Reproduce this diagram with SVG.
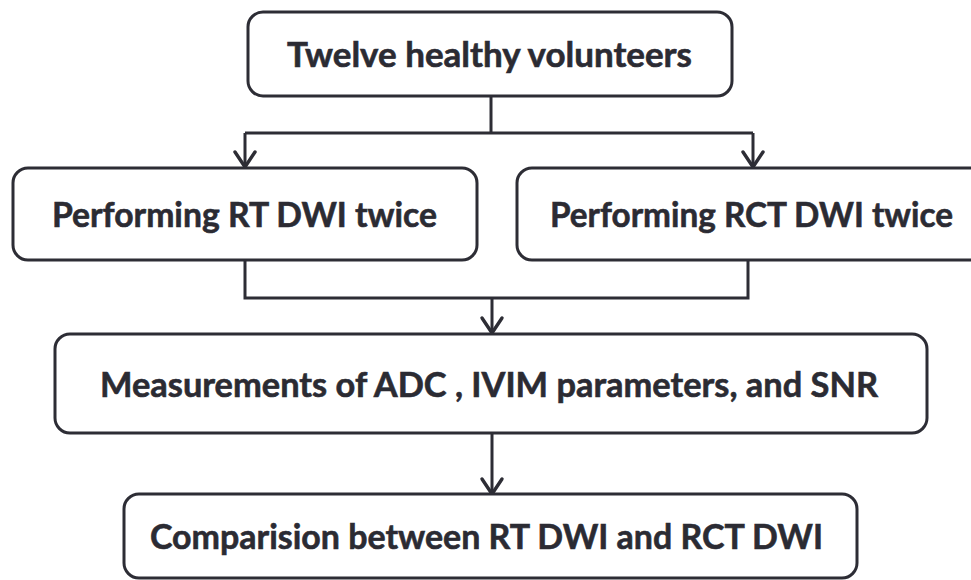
<svg xmlns="http://www.w3.org/2000/svg" width="971" height="580" viewBox="0 0 971 580">
  <defs>
    <!-- open V arrowhead, tip at the end of the line -->
    <marker id="arrow" markerUnits="userSpaceOnUse" markerWidth="30" markerHeight="30" viewBox="-20 -15 30 30" refX="0" refY="0" orient="auto">
      <path d="M-15 -10 L0 0 L-15 10" fill="none" stroke="#2d2d35" stroke-width="3.4" stroke-linecap="round" stroke-linejoin="round"/>
    </marker>
    <style>
      .box { fill: #ffffff; stroke: #2d2d35; stroke-width: 3; }
      .label { font-family: Lato, "Open Sans", "Liberation Sans", sans-serif; font-weight: bold; font-size: 35px; fill: #2b2b33; stroke: #2b2b33; stroke-width: 0.6; }
      .wire { fill: none; stroke: #2d2d35; stroke-width: 3; }
    </style>
  </defs>
  <rect width="971" height="580" fill="#ffffff"/>

  <g id="connectors">
    <path class="wire" d="M491 96 V133"/>
    <path class="wire" d="M245 133 H753"/>
    <path class="wire" d="M245 133 V167" marker-end="url(#arrow)"/>
    <path class="wire" d="M753 133 V167" marker-end="url(#arrow)"/>
    <path class="wire" d="M245 260 V298 H748 V260"/>
    <path class="wire" d="M492 298 V333" marker-end="url(#arrow)"/>
    <path class="wire" d="M492 433 V494" marker-end="url(#arrow)"/>
  </g>

  <g id="volunteers">
    <rect class="box" x="248" y="12" width="484" height="84" rx="15"/>
    <text class="label" x="287" y="67" textLength="405" lengthAdjust="spacingAndGlyphs">Twelve healthy volunteers</text>
  </g>

  <g id="rt-dwi">
    <rect class="box" x="13" y="168" width="464" height="92" rx="15"/>
    <text class="label" x="52" y="227" textLength="385" lengthAdjust="spacingAndGlyphs">Performing RT DWI twice</text>
  </g>

  <g id="rct-dwi">
    <rect class="box" x="517" y="168" width="472" height="92" rx="15"/>
    <text class="label" x="550" y="227" textLength="403" lengthAdjust="spacingAndGlyphs">Performing RCT DWI twice</text>
  </g>

  <g id="measurements">
    <rect class="box" x="55" y="334" width="872" height="99" rx="15"/>
    <text class="label" x="100" y="397" textLength="778" lengthAdjust="spacingAndGlyphs">Measurements of ADC , IVIM parameters, and SNR</text>
  </g>

  <g id="comparison">
    <rect class="box" x="124" y="494" width="733" height="84" rx="15"/>
    <text class="label" x="150" y="549" textLength="673" lengthAdjust="spacingAndGlyphs">Comparision between RT DWI and RCT DWI</text>
  </g>
</svg>
